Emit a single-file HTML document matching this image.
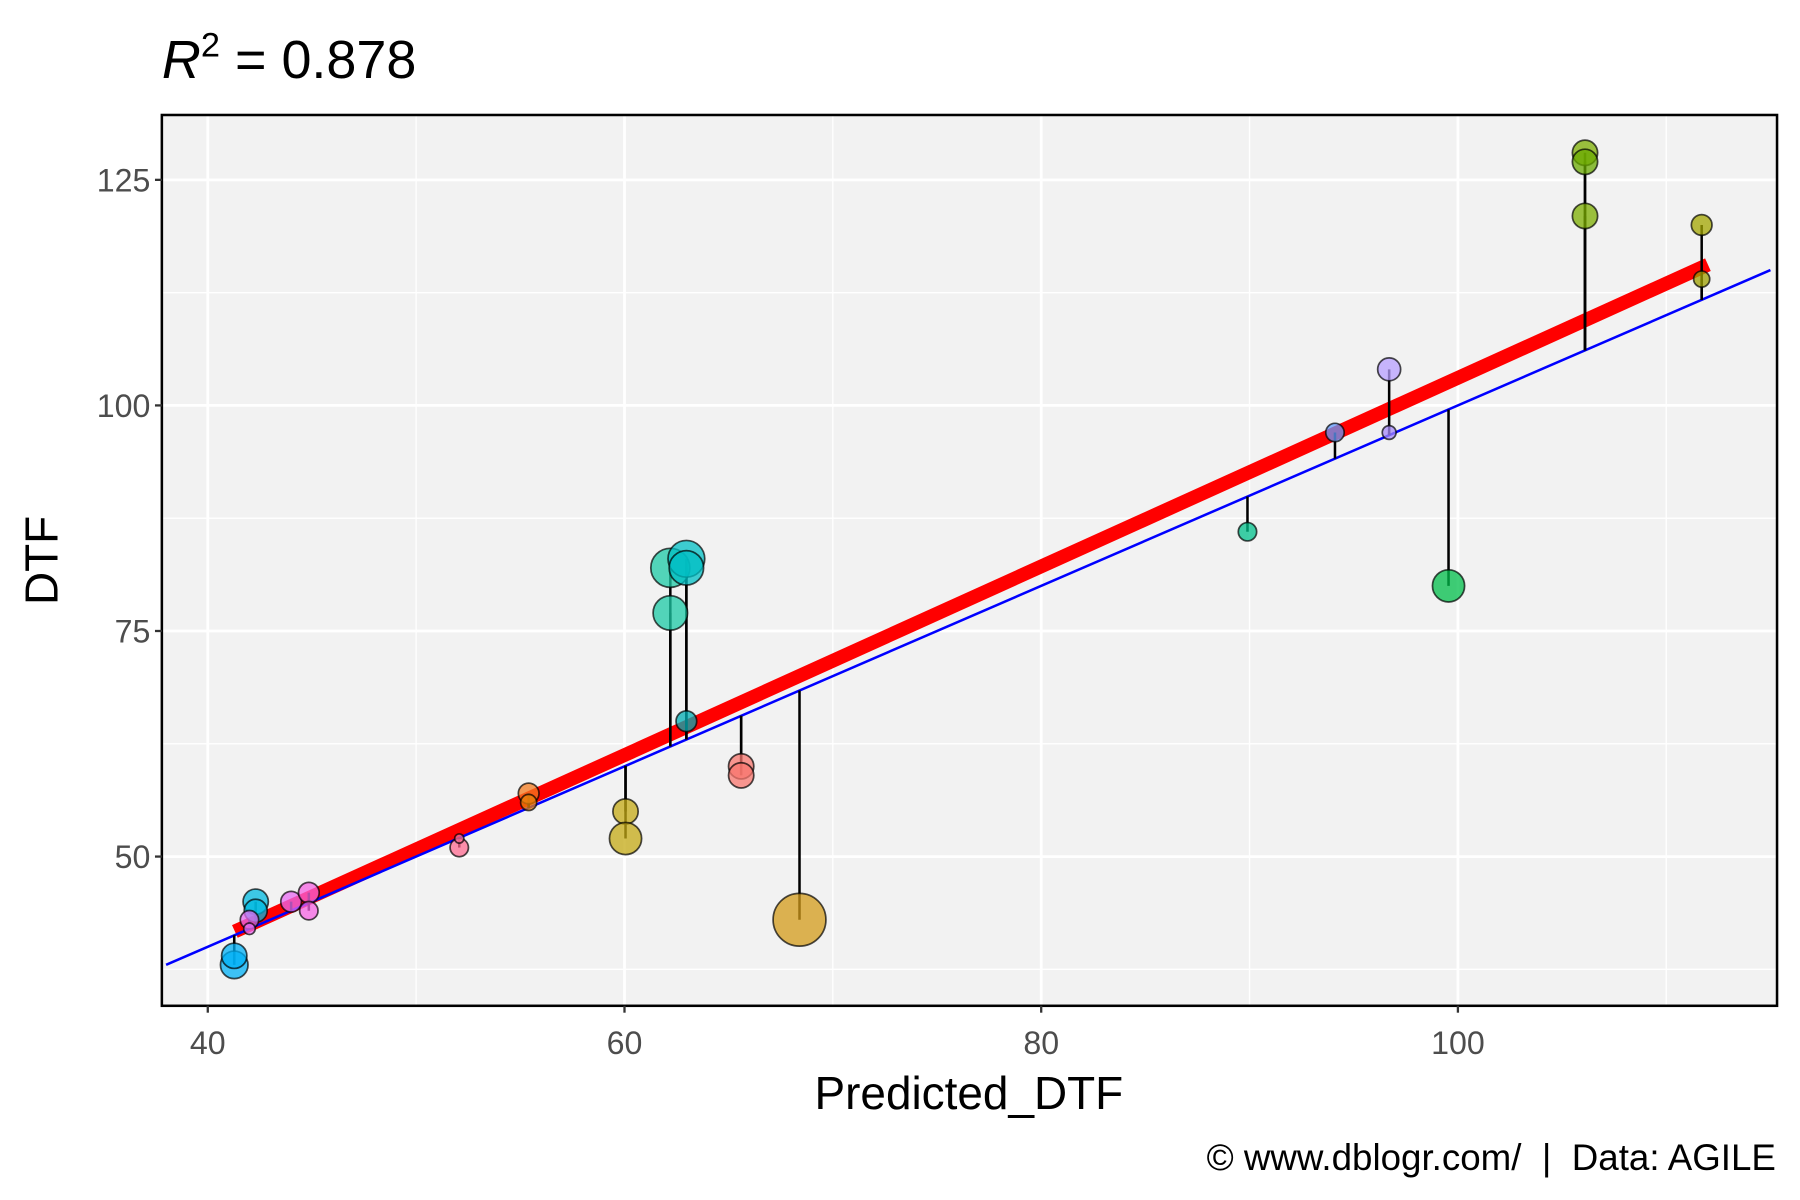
<!DOCTYPE html>
<html><head><meta charset="utf-8"><style>html,body{margin:0;padding:0;background:#fff}svg{display:block}text{font-family:"Liberation Sans",Arial,sans-serif}</style></head>
<body>
<svg id="chart" width="1800" height="1200" viewBox="0 0 1568 1045" xmlns="http://www.w3.org/2000/svg">
<g id="root"></g>
</svg>
<script>
const predicted=[41.27,41.27,42.3,42.3,42.0,42.0,44.0,44.85,44.85,52.07,52.07,55.4,55.4,60.05,60.05,62.2,62.2,62.97,62.97,62.97,65.6,65.6,68.4,89.9,94.1,96.7,96.7,99.55,106.1,106.1,106.1,111.7,111.7];
const actual=[38,39,45,44,43,42,45,46,44,51,52,57,56,55,52,82,77,83,82,65,60,59,43,86,97,104,97,80,128,127,121,120,114];
const sizes=[12,11,11,10,8,5,9,9,8,8,4,9,7,11,14,17,15,16,15,9,11,11,23,8,8,10,6,14,11,11,11,9,7];
const colors=["#00b0f6","#00b0f6","#00bae0","#00bae0","#e76bf3","#e76bf3","#e76bf3","#f564e3","#f564e3","#ff6c91","#ff6c91","#f37b1f","#e8810a","#c4a914","#c4a914","#1cc9a6","#1cc9a6","#00bfc4","#00bfc4","#00aeb4","#f8766d","#f8766d","#d39b1a","#00c08b","#619cff","#b79fff","#a58afa","#00bd4a","#7cae00","#6aaa00","#7cae00","#a3a500","#9da000"];
const xTicks=[40,60,80,100];
const yTicks=[50,75,100,125];
const xMinor=[50,70,90,110];
const yMinor=[37.5,62.5,87.5,112.5];
const redFit=[[41.3,41.7],[112,115.6]];
const blueFit=[[38,38],[115,115]];

const L=141,R=1548,T=100,B=876;
const sx=v=>181+(v-40)*18.15;
const sy=v=>746-(v-50)*7.86;
const NS="http://www.w3.org/2000/svg";
const root=document.getElementById('root');
function mk(tag,attrs,parent){const e=document.createElementNS(NS,tag);for(const k in attrs)e.setAttribute(k,attrs[k]);(parent||root).appendChild(e);return e;}

let e;
e=mk('rect',{x:L,y:T,width:R-L,height:B-T,fill:'#f2f2f2'});


const grid=mk('g',{});


xMinor.forEach(v=>mk('line',{x1:sx(v),x2:sx(v),y1:T,y2:B,stroke:'#fff','stroke-width':1.2},grid));
yMinor.forEach(v=>mk('line',{x1:L,x2:R,y1:sy(v),y2:sy(v),stroke:'#fff','stroke-width':1.2},grid));
xTicks.forEach(v=>mk('line',{x1:sx(v),x2:sx(v),y1:T,y2:B,stroke:'#fff','stroke-width':2.4},grid));
yTicks.forEach(v=>mk('line',{x1:L,x2:R,y1:sy(v),y2:sy(v),stroke:'#fff','stroke-width':2.4},grid));

const clip=mk('clipPath',{id:'pc'});mk('rect',{x:L,y:T,width:R-L,height:B-T},clip);
const pg=mk('g',{'clip-path':'url(#pc)'});
e=mk('line',{x1:sx(redFit[0][0]),y1:sy(redFit[0][1]),x2:sx(redFit[1][0]),y2:sy(redFit[1][1]),stroke:'#ff0000','stroke-width':12},pg);


e=mk('line',{x1:sx(blueFit[0][0]),y1:sy(blueFit[0][1]),x2:sx(blueFit[1][0]),y2:sy(blueFit[1][1]),stroke:'#0000ff','stroke-width':2.2},pg);


predicted.forEach((p,i)=>{
  const s=mk('line',{x1:sx(p),x2:sx(p),y1:sy(p),y2:sy(actual[i]),stroke:'#000','stroke-width':2.2},pg);
  
  
});
predicted.forEach((p,i)=>{
  const c=mk('circle',{cx:sx(p),cy:sy(actual[i]),r:sizes[i],fill:colors[i],'fill-opacity':0.75,stroke:'#000','stroke-opacity':0.7,'stroke-width':1.5},pg);
  
  
});
e=mk('rect',{x:L,y:T,width:R-L,height:B-T,fill:'none',stroke:'#000','stroke-width':2.2});



xTicks.forEach(v=>{
  mk('line',{x1:sx(v),x2:sx(v),y1:B,y2:B+6,stroke:'#333','stroke-width':2});
  const t=mk('text',{x:sx(v),y:B+42,'text-anchor':'middle','font-size':28,fill:'#4d4d4d'});t.textContent=v;
  
  
});
yTicks.forEach(v=>{
  mk('line',{x1:L-6,x2:L,y1:sy(v),y2:sy(v),stroke:'#333','stroke-width':2});
  const t=mk('text',{x:L-10,y:sy(v)+10,'text-anchor':'end','font-size':28,fill:'#4d4d4d'});t.textContent=v;
  
  
});
</script>
<script>
const svg=document.getElementById('chart');
const NS2="http://www.w3.org/2000/svg";
function tx(attrs,html,name){const t=document.createElementNS(NS2,'text');for(const k in attrs)t.setAttribute(k,attrs[k]);t.innerHTML=html;svg.appendChild(t);


}
tx({x:141,y:68,'font-size':47,fill:'#000'},'<tspan font-style="italic">R</tspan><tspan font-size="30" dy="-19">2</tspan><tspan dy="19"> = 0.878</tspan>','plot-title');
tx({x:844,y:966,'font-size':40,'text-anchor':'middle',fill:'#000'},'Predicted_DTF','x-axis-title');
tx({x:50,y:488,'font-size':40,'text-anchor':'middle',fill:'#000',transform:'rotate(-90 50 488)'},'DTF','y-axis-title');
tx({x:1547,y:1019,'font-size':32,'text-anchor':'end',fill:'#000',style:'white-space:pre'},'© www.dblogr.com/  |  Data: AGILE','caption');
</script>
</body></html>
